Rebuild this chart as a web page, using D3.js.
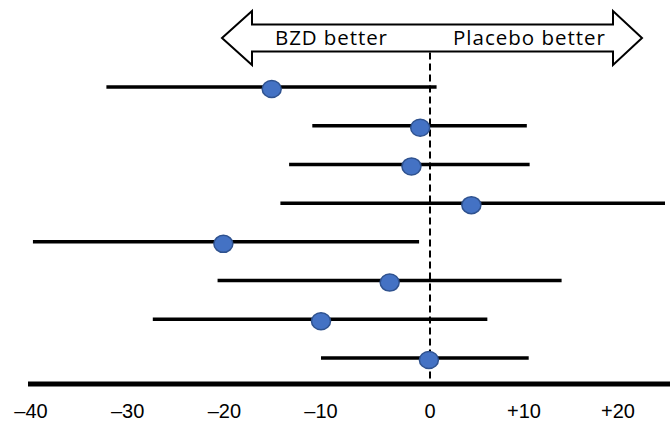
<!DOCTYPE html>
<meta charset="utf-8">
<style>
body{ margin:0; background:#fff; }
.ci{ stroke:#000; stroke-width:3.5px; }
.pt{ fill:#4472C4; stroke:#2F528F; stroke-width:1.5px; }
.tick{ font-family:"Liberation Sans",Arial,sans-serif; font-size:20px; text-anchor:middle; fill:#000; }
.lab{ font-family:"Open Sans",sans-serif; font-size:20.5px; fill:#000; }
</style>
<body>
<script src="https://d3js.org/d3.v7.min.js"></script>
<script>

// one row per study, top to bottom
var studies = [1,2,3,4,5,6,7,8];
var lower   = [-32.2,-10.9,-13.3,-14.2,-39.8,-20.7,-27.4,-10.0];
var upper   = [0.7,10.3,10.6,25.0,-1.0,14.0,6.1,10.5];
var est     = [-15.1,-0.9,-1.7,4.4,-20.1,-3.7,-10.0,-0.1];

var tickVals = [-40,-30,-20,-10,0,10,20];
var tickLabels = ["\u201340","\u201330","\u201320","\u201310","0","+10","+20"];

var W = 670, H = 421;
var svg = d3.select("body").append("svg").attr("width",W).attr("height",H);

// axis in the original is not quite evenly spaced
var x = d3.scaleLinear().domain([-40,-10,0,20]).range([31,321,430,618]);
var y = d3.scalePoint().domain(studies).range([87,358]);
var axisY = 384;

// header double arrow
var cy = 38, sh = 13.5, hh = 27;
var xl = 222, xlb = 252, xrb = 613, xr = 642;
svg.append("polygon")
	.attr("points",[[xl,cy],[xlb,cy-hh],[xlb,cy-sh],[xrb,cy-sh],[xrb,cy-hh],[xr,cy],
		[xrb,cy+hh],[xrb,cy+sh],[xlb,cy+sh],[xlb,cy+hh]].map(p=>p.join(",")).join(" "))
	.attr("fill","#fff").attr("stroke","#000").attr("stroke-width",2);
svg.append("text").attr("class","lab").attr("x",275).attr("y",45)
	.attr("textLength",112).text("BZD better");
svg.append("text").attr("class","lab").attr("x",453).attr("y",45)
	.attr("textLength",152).text("Placebo better");

// zero line
svg.append("line")
	.attr("x1",x(0)).attr("x2",x(0)).attr("y1",cy+sh+1).attr("y2",axisY)
	.attr("stroke","#000").attr("stroke-width",2).attr("stroke-dasharray","7,4");

// axis
svg.append("line")
	.attr("x1",x(-40)-3).attr("x2",W).attr("y1",axisY).attr("y2",axisY)
	.attr("stroke","#000").attr("stroke-width",5);
svg.selectAll(".tick").data(tickVals).enter().append("text")
	.attr("class","tick")
	.attr("x",d=>x(d))
	.attr("y",418)
	.text((d,i)=>tickLabels[i]);

// intervals and points
var rows = studies.map((s,i)=>({s:s, lo:lower[i], hi:upper[i], m:est[i]}));
svg.selectAll(".ci").data(rows).enter().append("line")
	.attr("class","ci")
	.attr("x1",d=>x(d.lo)).attr("x2",d=>x(d.hi))
	.attr("y1",d=>y(d.s)).attr("y2",d=>y(d.s));
svg.selectAll(".pt").data(rows).enter().append("ellipse")
	.attr("class","pt")
	.attr("cx",d=>x(d.m)).attr("cy",d=>y(d.s)+2)
	.attr("rx",9.5).attr("ry",8.5);

</script>
</body>
</html>
